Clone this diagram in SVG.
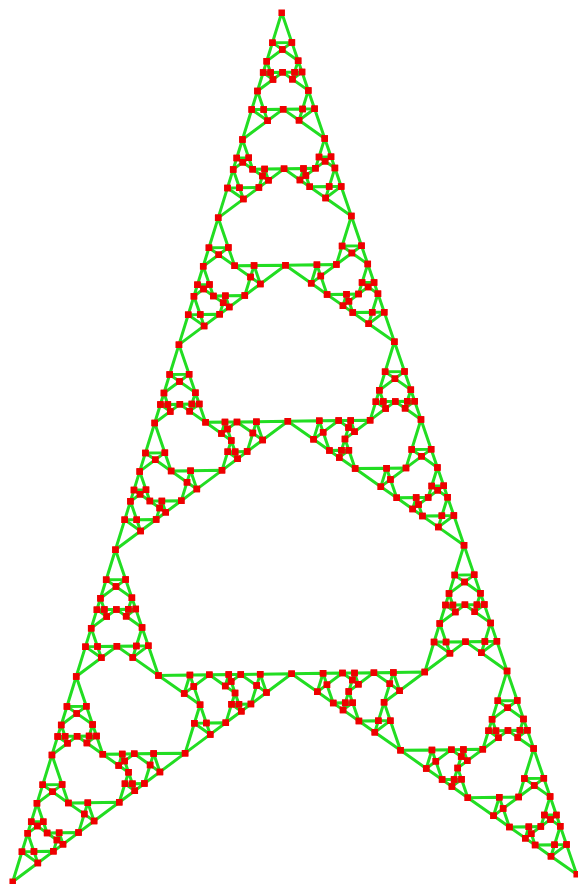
<svg xmlns="http://www.w3.org/2000/svg" width="578" height="884" viewBox="0 0 578 884">
<style>
.e{fill:none;stroke:#22dd22;stroke-width:3;stroke-linejoin:round;stroke-linecap:round}
.n{fill:none;stroke:#ee0000;stroke-width:6.5;stroke-linecap:square}
</style>
<defs>
<path id="e0" class="e" vector-effect="non-scaling-stroke" d="M281.7 12.7L12.7 881.7L576.7 874.3Z"/>
<path id="n0" class="n" vector-effect="non-scaling-stroke" d="M281.7 12.7h0M12.7 881.7h0M576.7 874.3h0"/>
<g id="e1"><use href="#e0" transform="matrix(0.618034 0 0 0.618034 107.6 4.851)"/><use href="#e0" transform="matrix(0.31521 0.21565 0.21581 -0.31521 -78.836 824.954)"/><use href="#e0" transform="matrix(-0.30861 0.22383 -0.2252 -0.30943 666.495 815.177)"/></g>
<g id="e2"><use href="#e1" transform="matrix(0.618034 0 0 0.618034 107.6 4.851)"/><use href="#e1" transform="matrix(0.31521 0.21565 0.21581 -0.31521 -78.836 824.954)"/><use href="#e1" transform="matrix(-0.30861 0.22383 -0.2252 -0.30943 666.495 815.177)"/></g>
<g id="e3"><use href="#e2" transform="matrix(0.618034 0 0 0.618034 107.6 4.851)"/><use href="#e1" transform="matrix(0.31521 0.21565 0.21581 -0.31521 -78.836 824.954)"/><use href="#e1" transform="matrix(-0.30861 0.22383 -0.2252 -0.30943 666.495 815.177)"/></g>
<g id="e4"><use href="#e3" transform="matrix(0.618034 0 0 0.618034 107.6 4.851)"/><use href="#e2" transform="matrix(0.31521 0.21565 0.21581 -0.31521 -78.836 824.954)"/><use href="#e2" transform="matrix(-0.30861 0.22383 -0.2252 -0.30943 666.495 815.177)"/></g>
<g id="e5"><use href="#e4" transform="matrix(0.618034 0 0 0.618034 107.6 4.851)"/><use href="#e3" transform="matrix(0.31521 0.21565 0.21581 -0.31521 -78.836 824.954)"/><use href="#e3" transform="matrix(-0.30861 0.22383 -0.2252 -0.30943 666.495 815.177)"/></g>
<g id="e6"><use href="#e5" transform="matrix(0.618034 0 0 0.618034 107.6 4.851)"/><use href="#e4" transform="matrix(0.31521 0.21565 0.21581 -0.31521 -78.836 824.954)"/><use href="#e4" transform="matrix(-0.30861 0.22383 -0.2252 -0.30943 666.495 815.177)"/></g>
<g id="e7"><use href="#e6" transform="matrix(0.618034 0 0 0.618034 107.6 4.851)"/><use href="#e5" transform="matrix(0.31521 0.21565 0.21581 -0.31521 -78.836 824.954)"/><use href="#e5" transform="matrix(-0.30861 0.22383 -0.2252 -0.30943 666.495 815.177)"/></g>
<g id="n1"><use href="#n0" transform="matrix(0.618034 0 0 0.618034 107.6 4.851)"/><use href="#n0" transform="matrix(0.31521 0.21565 0.21581 -0.31521 -78.836 824.954)"/><use href="#n0" transform="matrix(-0.30861 0.22383 -0.2252 -0.30943 666.495 815.177)"/></g>
<g id="n2"><use href="#n1" transform="matrix(0.618034 0 0 0.618034 107.6 4.851)"/><use href="#n1" transform="matrix(0.31521 0.21565 0.21581 -0.31521 -78.836 824.954)"/><use href="#n1" transform="matrix(-0.30861 0.22383 -0.2252 -0.30943 666.495 815.177)"/></g>
<g id="n3"><use href="#n2" transform="matrix(0.618034 0 0 0.618034 107.6 4.851)"/><use href="#n1" transform="matrix(0.31521 0.21565 0.21581 -0.31521 -78.836 824.954)"/><use href="#n1" transform="matrix(-0.30861 0.22383 -0.2252 -0.30943 666.495 815.177)"/></g>
<g id="n4"><use href="#n3" transform="matrix(0.618034 0 0 0.618034 107.6 4.851)"/><use href="#n2" transform="matrix(0.31521 0.21565 0.21581 -0.31521 -78.836 824.954)"/><use href="#n2" transform="matrix(-0.30861 0.22383 -0.2252 -0.30943 666.495 815.177)"/></g>
<g id="n5"><use href="#n4" transform="matrix(0.618034 0 0 0.618034 107.6 4.851)"/><use href="#n3" transform="matrix(0.31521 0.21565 0.21581 -0.31521 -78.836 824.954)"/><use href="#n3" transform="matrix(-0.30861 0.22383 -0.2252 -0.30943 666.495 815.177)"/></g>
<g id="n6"><use href="#n5" transform="matrix(0.618034 0 0 0.618034 107.6 4.851)"/><use href="#n4" transform="matrix(0.31521 0.21565 0.21581 -0.31521 -78.836 824.954)"/><use href="#n4" transform="matrix(-0.30861 0.22383 -0.2252 -0.30943 666.495 815.177)"/></g>
<g id="n7"><use href="#n6" transform="matrix(0.618034 0 0 0.618034 107.6 4.851)"/><use href="#n5" transform="matrix(0.31521 0.21565 0.21581 -0.31521 -78.836 824.954)"/><use href="#n5" transform="matrix(-0.30861 0.22383 -0.2252 -0.30943 666.495 815.177)"/></g>
</defs>
<rect width="578" height="884" fill="#ffffff"/>
<g id="connectors"><use href="#e7"/></g>
<g id="nodes"><use href="#n7"/></g>
</svg>
